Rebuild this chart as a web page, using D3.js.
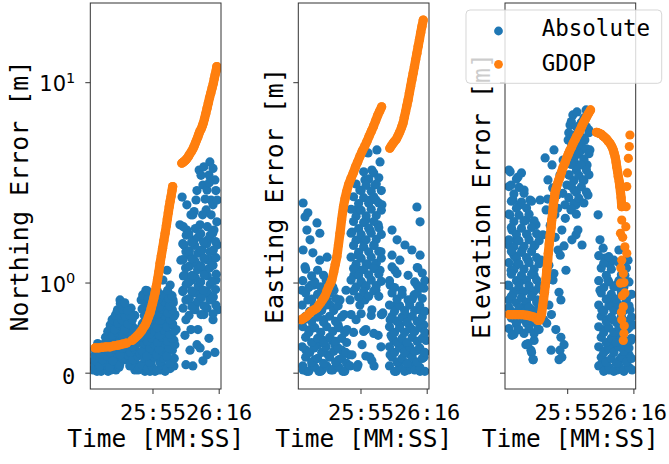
<!DOCTYPE html>
<html>
<head>
<meta charset="utf-8">
<script src="https://cdn.jsdelivr.net/npm/d3@7"></script>
<style>
  body { margin: 0; background: #fff; }
  svg { display: block; }
  text { font-family: 'DejaVu Sans Mono', monospace; fill: #000; }
</style>
</head>
<body>
<svg width="669" height="464"></svg>
<script>
// times are seconds after 25:00, values are metres
const tickSeconds = [55, 76];
const yTickValues = [0, 1, 10];
const panelLabels = ['Northing Error [m]', 'Easting Error [m]', 'Elevation Error [m]'];
const seriesNames = ['Absolute', 'GDOP'];

const northAbs = [
  [36.1,0.02],[36.4,0.09],[36.8,0.14],[37.1,0.04],[37.4,0.01],[37.7,0.10],[38.0,0.18],[38.3,0.05],[38.7,0.01],[39.0,0.13],
  [39.3,0.23],[39.6,0.03],[39.9,0.09],[40.2,0.17],[40.6,0.27],[40.9,0.01],[41.2,0.12],[41.5,0.38],[41.8,0.20],[42.1,0.07],
  [42.5,0.49],[42.8,0.29],[43.1,0.14],[43.4,0.02],[43.7,0.58],[44.1,0.40],[44.4,0.23],[44.7,0.74],[45.0,0.51],[45.3,0.31],
  [45.6,0.17],[46.0,0.67],[46.3,0.43],[46.6,0.25],[46.9,0.10],[47.2,0.55],[47.5,0.34],[47.9,0.18],[48.2,0.63],[48.5,0.42],
  [48.8,0.23],[49.1,0.09],[49.4,0.54],[49.8,0.32],[50.1,0.14],[50.4,0.02],[50.7,0.27],[51.0,0.04],
  [35.8,0.05],[38.0,0.04],[39.3,0.07],[40.6,0.05],[41.8,0.02],[43.1,0.07],[44.4,0.04],
  [49.4,0.02],[52.6,0.01],[54.2,0.01],[55.8,0.01],[57.4,0.02],[59.0,0.01],[60.6,0.03],[61.8,0.05],
  [36.9,0.09],[38.2,0.05],[40.0,0.08],[41.4,0.04],[43.2,0.09],[44.6,0.06],[46.4,0.10],[47.8,0.05],[49.5,0.08],[50.9,0.04],
  [37.4,0.14],[39.2,0.10],[40.6,0.13],[42.4,0.09],[43.8,0.15],[45.6,0.11],[47.0,0.14],[48.8,0.10],[50.3,0.13],
  [36.7,0.19],[38.4,0.15],[39.8,0.20],[41.6,0.16],[43.0,0.19],[44.8,0.14],[46.2,0.20],[48.0,0.16],[49.3,0.19],[51.1,0.15],
  [37.6,0.24],[39.0,0.20],[40.8,0.25],[42.2,0.21],[44.0,0.24],[45.4,0.20],[47.2,0.25],[48.6,0.21],[50.2,0.24],
  [40.1,0.30],[41.3,0.26],[43.3,0.29],[44.5,0.25],[46.5,0.30],[47.7,0.26],[49.6,0.29],[50.8,0.25],
  [40.8,0.36],[42.3,0.32],[43.9,0.35],[45.5,0.31],[47.1,0.36],[48.7,0.32],[50.3,0.35],
  [41.6,0.43],[43.0,0.38],[44.8,0.42],[46.2,0.38],[48.0,0.43],[49.3,0.39],
  [42.2,0.49],[44.0,0.45],[45.4,0.48],[47.2,0.44],[48.6,0.49],
  [43.2,0.54],[44.6,0.55],[46.4,0.53],[47.8,0.54],[43.9,0.61],[45.5,0.62],[47.1,0.60],[44.8,0.69],[46.2,0.70],
  [51.4,0.74],[51.7,0.43],[52.0,0.18],[52.3,0.61],[52.6,0.32],[52.9,0.88],[53.3,0.14],[53.6,0.51],[53.9,0.25],[54.2,0.81],
  [54.5,0.09],[54.8,0.40],[55.2,0.67],[55.5,0.20],[55.8,0.51],[56.1,0.88],[56.4,0.29],[56.7,0.12],[57.1,0.61],[57.4,0.38],
  [57.7,0.74],[58.0,0.23],[58.3,1.04],[58.6,0.46],[59.0,0.18],[59.3,0.80],[59.6,1.21],[59.9,0.32],[60.2,0.58],[60.6,0.96],
  [60.9,0.18],[61.2,0.43],[61.5,0.74],[61.8,0.27],[62.1,0.55],[62.5,0.38],
  [51.7,0.06],[53.4,0.03],[54.7,0.05],[56.5,0.02],[57.9,0.06],[59.7,0.03],[61.1,0.05],
  [52.5,0.11],[54.1,0.08],[55.5,0.12],[57.3,0.08],[58.7,0.11],[60.5,0.07],[61.9,0.11],
  [51.8,0.17],[53.2,0.13],[54.9,0.18],[56.3,0.14],[58.1,0.17],[59.5,0.13],[61.3,0.18],
  [52.4,0.24],[54.2,0.20],[55.6,0.23],[57.1,0.19],[58.9,0.24],[60.3,0.20],[62.1,0.23],
  [51.6,0.30],[53.4,0.26],[54.8,0.29],[56.6,0.25],[58.0,0.30],[59.8,0.26],[61.2,0.29],
  [52.6,0.37],[54.0,0.33],[55.7,0.36],[57.2,0.32],[58.8,0.37],[60.4,0.33],[61.9,0.36],
  [51.9,0.45],[53.2,0.41],[55.0,0.44],[56.4,0.40],[58.2,0.45],[59.6,0.41],[61.4,0.44],
  [52.4,0.54],[54.2,0.49],[55.6,0.53],[57.4,0.48],[58.8,0.54],[60.6,0.49],[61.8,0.53],
  [51.7,0.62],[53.5,0.57],[54.9,0.61],[56.7,0.56],[58.1,0.62],[59.9,0.57],[61.3,0.61],
  [52.6,0.71],[54.0,0.66],[55.8,0.70],[57.2,0.65],[59.0,0.71],[60.4,0.66],[61.6,0.70],
  [51.9,0.81],[53.7,0.76],[55.1,0.80],[56.9,0.75],[58.3,0.81],[60.1,0.76],[61.2,0.80],
  [53.4,0.87],[56.6,0.86],[59.8,0.88],
  [63.7,2.22],[64.0,1.40],[64.4,3.07],[64.7,0.88],[65.0,1.72],[65.3,1.12],[65.6,0.49],[65.9,2.08],[66.3,0.74],[66.6,1.50],
  [66.9,0.18],[67.2,2.50],[67.5,1.04],[67.8,0.05],[68.2,1.84],[68.5,0.67],[68.8,2.97],[69.1,1.31],[69.4,0.38],[69.8,4.13],
  [70.1,2.22],[70.4,0.88],[70.7,1.61],[71.0,3.51],[71.3,0.55],[71.7,1.21],[72.0,2.65],[72.3,0.14],[72.6,1.84],[72.9,0.81],
  [73.2,4.50],[73.6,2.97],[73.9,1.40],[74.2,0.49],[74.5,2.08],[74.8,3.71],[75.1,1.04],[75.5,1.72],[75.8,0.61],[71.3,4.27],
  [70.1,0.20],[72.9,3.91],[74.2,2.81],[65.6,0.06],[67.2,0.38],
  [64.7,0.63],[66.6,0.54],[68.5,0.61],[70.4,0.55],[72.3,0.63],[74.2,0.56],
  [65.6,0.74],[67.5,0.65],[69.4,0.72],[71.3,0.66],[73.2,0.74],[75.1,0.67],
  [64.6,0.86],[66.7,0.76],[68.4,0.84],[70.5,0.77],[72.2,0.86],[74.3,0.78],
  [65.7,0.97],[67.4,0.87],[69.5,0.95],[71.2,0.88],[73.3,0.97],[75.0,0.89],
  [64.8,1.11],[66.5,1.00],[68.6,1.08],[70.3,1.01],[72.4,1.11],[74.1,1.02],
  [65.5,1.25],[67.6,1.12],[69.3,1.22],[71.4,1.13],[73.1,1.25],[75.2,1.14],
  [64.7,1.41],[66.6,1.28],[68.5,1.38],[70.4,1.29],[72.3,1.41],[74.2,1.30],
  [65.6,1.57],[67.5,1.43],[69.4,1.54],[71.3,1.44],[73.2,1.57],[75.1,1.45],
  [64.6,1.75],[66.7,1.59],[68.4,1.71],[70.5,1.60],[72.2,1.75],[74.3,1.61],
  [65.7,1.95],[67.4,1.78],[69.5,1.91],[71.2,1.79],[73.3,1.95],[75.0,1.80],
  [64.8,2.17],[66.5,1.98],[68.6,2.12],[70.3,1.99],[72.4,2.17],[74.1,2.00],
  [65.3,0.32],[69.1,0.23],[72.9,0.29],[74.8,0.16],[71.0,0.09],[67.8,2.50],[72.3,3.32],[75.5,2.97],[65.9,2.81],
  [69.1,3.3],[70.4,3.9],[71.7,3.0],[73.0,3.6],[74.2,4.2],[75.1,3.3],[68.2,2.6],[70.9,2.5],[73.6,2.5],[75.4,2.3]
];

const northGdop = [
  [36.8,0.20],[37.9,0.20],[39.0,0.205],[40.2,0.21],[41.5,0.21],[42.8,0.22],[44.0,0.225],[45.4,0.235],[46.8,0.245],[48.5,0.27],
  [49.3,0.29],[50.0,0.31],[50.6,0.33],[51.1,0.35],[51.6,0.37],[52.1,0.40],[52.7,0.43],[53.2,0.47],[53.7,0.52],[54.2,0.57],
  [54.6,0.63],[55.0,0.69],[55.4,0.76],[55.8,0.84],[56.2,0.94],[56.6,1.05],[57.0,1.18],[57.4,1.34],[57.8,1.49],[58.2,1.65],
  [58.6,1.82],[59.0,2.0],[59.4,2.2],[59.7,2.38],[60.0,2.56],[60.3,2.75],[60.6,2.93],[60.9,3.1],[61.2,3.3],[61.4,3.45],
  [64.3,4.44],[64.7,4.48],[65.0,4.52],[65.4,4.57],[65.7,4.62],[66.0,4.68],[66.4,4.76],[66.8,4.88],[67.3,5.0],[67.8,5.15],
  [68.2,5.3],[68.6,5.47],[69.0,5.65],[69.4,5.83],[69.7,6.0],[70.0,6.15],[70.4,6.3],[70.8,6.5],[71.1,6.69],[71.5,7.0],
  [71.9,7.35],[72.3,7.75],[72.7,8.16],[73.1,8.6],[73.5,9.0],[73.9,9.45],[74.3,9.9],[74.6,10.35],[74.9,10.8],[75.2,11.2],
  [75.4,11.62]
];

const eastAbs = [
  [36.8,2.87],[38.3,2.56],[37.4,2.44],[41.2,2.27],[38.0,2.08],[39.0,1.84],[42.1,2.00],[36.8,1.61],[39.9,1.55],[37.4,1.27],
  [42.1,1.40],[44.4,1.46],
  [36.4,0.88],[37.1,0.49],[37.7,0.18],[38.3,0.74],[39.0,0.38],[39.6,0.06],[40.2,0.96],[40.9,0.61],[41.5,0.23],[42.1,0.81],
  [42.8,0.02],[43.4,0.49],[44.1,1.04],[44.7,0.14],[45.3,0.67],[46.0,0.27],[46.6,0.88],[47.2,0.04],[47.9,0.43],[48.5,0.74],
  [49.1,0.18],[49.8,0.55],[36.8,0.02],[38.0,0.01],[39.3,0.96],[40.6,0.10],[41.8,0.01],[43.1,0.27],[44.4,0.74],[45.6,0.02],
  [46.9,0.23],[48.2,0.10],[49.4,0.01],[50.7,0.38],[51.4,0.14],[50.4,0.88],
  [36.7,0.05],[38.6,0.01],[40.5,0.04],[42.4,0.01],[44.3,0.05],[46.2,0.02],[48.1,0.04],[50.0,0.01],
  [37.6,0.12],[39.5,0.08],[41.4,0.11],[43.3,0.07],[45.2,0.12],[47.1,0.08],[49.0,0.11],[50.6,0.07],
  [36.5,0.21],[38.9,0.16],[40.3,0.20],[42.7,0.16],[44.1,0.21],[46.5,0.17],[47.9,0.20],[50.3,0.16],
  [37.6,0.30],[39.5,0.25],[41.4,0.29],[43.3,0.25],[45.2,0.30],[47.1,0.26],[49.0,0.29],[50.6,0.25],
  [36.7,0.41],[38.6,0.35],[40.5,0.40],[42.4,0.35],[44.3,0.41],[46.2,0.36],[48.1,0.40],[50.0,0.35],
  [37.6,0.53],[39.5,0.47],[41.4,0.52],[43.3,0.46],[45.2,0.53],[47.1,0.47],[49.0,0.52],
  [36.5,0.67],[38.9,0.59],[40.3,0.66],[42.7,0.60],[44.1,0.67],[46.5,0.60],[47.9,0.66],
  [37.6,0.84],[39.5,0.75],[41.4,0.82],[43.3,0.75],[45.2,0.84],[47.1,0.76],
  [36.7,1.03],[38.6,0.92],[40.5,1.01],[42.4,0.93],[44.3,1.03],[46.2,0.93],
  [37.6,1.23],[39.5,1.11],[41.4,1.21],[43.3,1.12],
  [57.4,4.94],[60.2,5.10],[61.2,4.50],[58.6,4.13],[56.4,3.71],[59.6,3.51],[54.8,3.32],[58.0,2.97],[61.8,2.81],[53.6,2.65],
  [56.7,2.35],[60.6,2.22],[52.3,2.03],[55.5,1.84],[59.3,1.72],[54.2,1.50],[57.4,1.31],[61.2,1.21],[52.9,1.12],[56.1,0.96],
  [59.9,0.88],[51.7,0.74],[54.8,0.67],[58.6,0.61],[61.8,0.55],[53.6,0.49],[56.7,0.38],[60.6,0.32],[55.5,0.23],[52.3,0.14],
  [58.0,0.12],[62.1,0.57],[54.2,0.06],[58.6,0.09],[56.4,0.74],[58.0,2.08],[54.8,1.21],[59.9,2.97],[61.5,1.57],[51.7,0.05],
  [53.9,0.04],[56.7,0.13],[59.3,0.05],[61.5,0.21],
  [56.0,4.05],[57.6,3.75],[59.2,4.0],[60.8,3.8],
  [53.6,3.55],[55.2,3.3],[56.8,3.5],[58.4,3.28],[60.0,3.55],[61.6,3.3],
  [52.8,3.08],[54.4,2.85],[56.0,3.05],[57.6,2.86],[59.2,3.08],[60.8,2.87],
  [52.0,2.67],[53.6,2.46],[55.2,2.64],[56.8,2.47],[58.4,2.67],[60.0,2.48],[61.6,2.64],
  [52.8,2.31],[54.4,2.12],[56.0,2.28],[57.6,2.13],[59.2,2.31],[60.8,2.14],
  [52.0,2.0],[53.6,1.83],[55.2,1.97],[56.8,1.84],[58.4,2.0],[60.0,1.85],[61.6,1.97],
  [52.8,1.71],[54.4,1.56],[56.0,1.68],[57.6,1.57],[59.2,1.71],[60.8,1.58],
  [52.0,1.46],[53.6,1.32],[55.2,1.44],[56.8,1.33],[58.4,1.46],[60.0,1.34],[61.6,1.44],
  [52.8,1.24],[54.4,1.12],[56.0,1.22],[57.6,1.13],[59.2,1.24],[60.8,1.14],
  [52.0,1.04],[53.6,0.93],[55.2,1.02],[56.8,0.94],[58.4,1.04],[60.0,0.95],[61.6,1.02],
  [52.8,0.87],[54.4,0.78],[56.0,0.86],[57.6,0.79],[59.2,0.87],[60.8,0.79],
  [52.0,0.55],[55.2,0.56],[58.4,0.54],[61.6,0.55],[52.8,0.35],[56.0,0.36],[59.2,0.34],
  [72.9,2.74],[73.9,2.30],[65.0,2.08],[66.6,1.84],[69.1,1.72],[65.0,1.50],[67.5,1.40],[71.3,1.61],[73.9,1.50],[65.9,1.21],
  [70.1,1.12],[73.2,1.25],[64.4,0.96],[68.2,0.88],[72.0,0.81],[75.1,0.91],[66.3,0.67],[70.1,0.74],[73.9,0.61],[64.4,0.49],
  [67.5,0.43],[71.3,0.38],[75.1,0.43],[65.6,0.27],[69.4,0.23],[73.2,0.18],[64.4,0.14],[68.2,0.10],[72.0,0.06],[75.1,0.12],
  [66.3,0.01],[70.1,0.02],[73.9,0.01],[64.7,0.32],[69.1,0.55],[72.9,0.96],[70.7,0.14],[67.2,0.23],[75.8,0.27],
  [64.2,0.05],[65.8,0.01],[67.4,0.04],[69.0,0.01],[70.6,0.05],[72.2,0.02],[73.8,0.04],[75.4,0.01],
  [65.0,0.12],[66.6,0.08],[68.2,0.11],[69.8,0.07],[71.4,0.12],[73.0,0.08],[74.6,0.11],
  [64.2,0.21],[65.8,0.16],[67.4,0.20],[69.0,0.16],[70.6,0.21],[72.2,0.17],[73.8,0.20],[75.4,0.16],
  [65.0,0.30],[66.6,0.25],[68.2,0.29],[69.8,0.25],[71.4,0.30],[73.0,0.26],[74.6,0.29],
  [64.2,0.41],[65.8,0.35],[67.4,0.40],[69.0,0.35],[70.6,0.41],[72.2,0.36],[73.8,0.40],[75.4,0.35],
  [65.0,0.53],[66.6,0.47],[68.2,0.52],[69.8,0.46],[71.4,0.53],[73.0,0.47],[74.6,0.52],
  [64.2,0.67],[65.8,0.59],[67.4,0.66],[69.0,0.60],[70.6,0.67],[72.2,0.60],[73.8,0.66],[75.4,0.59],
  [65.0,0.84],[66.6,0.75],[68.2,0.82],[71.4,0.75],[73.0,0.84],[74.6,0.76],
  [64.2,1.03],[65.8,0.92],[72.2,1.01],[73.8,0.93],[75.4,1.03],
  [65.0,1.27],[66.6,1.15],[73.0,1.26],[74.6,1.16]
];

const eastGdop = [
  [36.3,0.49],[37.1,0.51],[37.9,0.53],[38.7,0.56],[39.5,0.59],[40.3,0.61],[41.1,0.63],[41.8,0.67],[42.5,0.71],[43.1,0.75],
  [43.7,0.79],[44.3,0.86],[44.8,0.92],[45.4,0.98],[45.9,1.04],[46.5,1.18],[47.0,1.32],[47.5,1.47],[48.0,1.72],[48.5,2.0],
  [49.0,2.35],[49.6,2.75],[50.1,3.02],[50.6,3.26],[51.3,3.55],[52.0,3.78],[52.7,4.0],[53.4,4.26],[54.1,4.5],[54.8,4.76],
  [55.5,5.02],[56.3,5.28],[57.0,5.55],[57.7,5.85],[58.4,6.15],[59.1,6.47],[59.8,6.85],[60.5,7.25],[61.1,7.55],[61.7,7.87],
  [64.3,5.19],[64.8,5.32],[65.3,5.45],[65.8,5.57],[66.4,5.7],[66.9,5.9],[67.4,6.1],[68.0,6.4],[68.5,6.7],[68.9,7.1],
  [69.3,7.5],[69.7,7.95],[70.1,8.42],[70.5,9.0],[70.9,9.6],[71.3,10.25],[71.7,10.9],[72.1,11.6],[72.5,12.4],[72.9,13.2],
  [73.3,14.1],[73.7,15.0],[74.1,16.0],[74.5,17.0],[74.9,18.0]
];

const elevAbs = [
  [36.5,4.13],[37.2,3.51],[37.8,2.97],[36.8,2.50],[37.5,2.08],[36.5,1.72],[38.1,1.50],[37.2,1.21],[36.2,0.96],[37.8,0.81],
  [36.8,0.61],[38.4,0.49],[37.5,0.32],[36.5,0.74],[38.8,1.84],[39.4,3.83],[40.0,2.81],[39.1,1.31],[39.7,0.88],[40.3,0.55],
  [39.4,0.38],[40.7,1.61],[41.3,3.32],[41.9,2.35],[41.0,1.04],[41.6,0.67],[42.3,1.96],[42.6,1.40],[41.9,0.23],[42.9,0.43],
  [43.2,2.97],[43.2,0.88],[43.5,0.18],[44.2,0.10],[43.8,0.61],[44.5,1.12],[44.8,1.72],[45.1,2.22],[45.4,0.74],[44.5,0.27],
  [45.7,0.38],[42.6,0.24],[43.7,0.16],[44.2,0.10],[52.7,0.18],[53.3,0.12],
  [36.9,4.05],[38.9,3.75],[40.5,4.0],
  [36.5,3.45],[38.1,3.18],[39.7,3.42],[41.3,3.2],
  [37.3,2.93],[38.9,2.7],[40.5,2.9],[42.1,2.71],[43.7,2.93],
  [36.5,2.52],[38.1,2.31],[39.7,2.49],[41.3,2.32],[42.9,2.52],[44.5,2.33],
  [37.3,2.15],[38.9,1.97],[40.5,2.13],[42.1,1.98],[43.7,2.15],[45.3,1.99],
  [36.5,1.84],[38.1,1.68],[39.7,1.82],[41.3,1.69],[42.9,1.84],[44.5,1.69],[46.1,1.82],
  [37.3,1.58],[38.9,1.44],[40.5,1.56],[42.1,1.45],[43.7,1.58],[45.3,1.45],
  [36.5,1.35],[38.1,1.22],[39.7,1.33],[41.3,1.23],[42.9,1.35],[44.5,1.23],[46.1,1.33],
  [37.3,1.14],[38.9,1.03],[40.5,1.12],[42.1,1.04],[43.7,1.14],[45.3,1.04],
  [36.5,0.95],[38.1,0.86],[39.7,0.94],[41.3,0.86],[42.9,0.95],[44.5,0.87],[46.1,0.94],
  [37.3,0.79],[38.9,0.70],[40.5,0.77],[42.1,0.71],[43.7,0.79],[45.3,0.71],
  [36.5,0.64],[38.1,0.57],[39.7,0.63],[41.3,0.57],[42.9,0.64],[44.5,0.58],[46.1,0.63],
  [37.3,0.51],[38.9,0.44],[40.5,0.50],[42.1,0.45],[43.7,0.51],[45.3,0.45],
  [36.5,0.39],[38.1,0.33],[39.7,0.38],[41.3,0.34],[42.9,0.39],[44.5,0.34],[46.1,0.38],
  [46.4,2.97],[46.7,1.40],[47.0,0.88],[47.3,1.96],[48.0,4.69],[47.6,0.49],[48.3,2.65],[48.6,1.21],[48.9,3.71],[49.2,0.67],
  [49.5,1.84],[49.9,0.18],[50.2,4.36],[50.5,1.04],[50.8,5.10],[51.1,2.50],[51.4,0.38],[51.8,3.14],[52.1,1.61],[52.4,0.10],
  [52.7,3.91],[53.0,0.74],[53.3,2.08],[53.7,4.59],[54.0,0.23],[54.3,2.81],[54.6,1.21],[54.9,3.51],
  [48.8,3.0],[49.6,2.2],[50.4,3.4],[51.2,1.9],[52.0,2.7],[52.8,1.5],[53.6,3.2],[54.4,2.4],[49.2,1.3],[50.8,1.15],
  [52.4,0.85],[54.0,1.7],[48.5,0.45],[50.0,0.55],[53.0,0.3],
  [55.3,5.65],[55.6,3.91],[55.9,6.57],[56.2,2.65],[56.5,4.84],[56.8,7.26],[57.2,3.32],[57.5,5.94],[57.8,1.96],[58.1,7.48],
  [58.4,4.36],[58.7,2.97],[59.1,6.57],[59.4,5.10],[59.7,1.72],[60.0,3.71],[60.3,7.05],[60.6,5.65],[61.0,7.63],[61.3,4.36],
  [61.6,3.14],[61.9,6.25],[62.2,5.10],[56.5,1.84],[58.4,2.08],[57.8,2.81],
  [56.3,6.8],[57.9,6.45],[59.5,6.75],[61.1,6.45],
  [55.5,6.08],[57.1,5.75],[58.7,6.05],[60.3,5.76],[61.9,6.08],
  [56.3,5.46],[57.9,5.15],[59.5,5.44],[61.1,5.16],
  [55.5,4.9],[57.1,4.62],[58.7,4.88],[60.3,4.63],[61.9,4.9],
  [56.3,4.38],[57.9,4.12],[59.5,4.36],[61.1,4.13],
  [55.5,3.92],[57.1,3.68],[58.7,3.9],[60.3,3.69],[61.9,3.92],
  [56.3,3.46],[57.9,3.24],[59.5,3.44],[61.1,3.25],
  [55.5,3.05],[57.1,2.86],[58.7,3.03],[60.3,2.87],[56.3,2.68],[57.9,2.52],
  [64.8,2.50],[65.4,1.84],[66.4,1.65],[67.0,1.44],[68.6,1.31],[67.9,1.04],[65.4,0.88],[66.0,0.61],[66.7,0.38],[67.3,0.18],
  [65.7,0.06],[68.3,0.02],[68.9,0.74],[69.5,0.49],[69.2,0.23],[69.8,1.40],[70.5,0.96],[70.8,0.02],[71.1,0.32],[70.2,0.67],
  [71.7,0.10],[72.1,0.88],[72.4,0.49],[72.7,0.23],[73.0,0.01],[73.7,0.74],[74.0,0.38],[74.3,1.40],[74.6,0.14],[74.9,0.61],
  [75.2,0.27],[75.6,0.02],[73.3,1.12],[71.4,1.61],[67.6,0.49],[66.4,0.10],[75.9,0.43],
  [65.0,0.05],[66.6,0.01],[68.2,0.04],[69.8,0.01],[71.4,0.05],[73.0,0.02],[74.6,0.04],
  [65.8,0.12],[67.4,0.08],[69.0,0.11],[70.6,0.07],[72.2,0.12],[73.8,0.08],[75.4,0.11],
  [65.0,0.21],[66.6,0.16],[68.2,0.20],[69.8,0.16],[71.4,0.21],[73.0,0.17],[74.6,0.20],
  [65.8,0.30],[67.4,0.25],[69.0,0.29],[70.6,0.25],[72.2,0.30],[73.8,0.26],[75.4,0.29],
  [65.0,0.41],[66.6,0.35],[68.2,0.40],[69.8,0.35],[71.4,0.41],[73.0,0.36],[74.6,0.40],
  [65.8,0.53],[67.4,0.47],[69.0,0.52],[70.6,0.46],[72.2,0.53],[73.8,0.47],[75.4,0.52],
  [65.0,0.67],[66.6,0.59],[68.2,0.66],[69.8,0.60],[71.4,0.67],[73.0,0.60],[74.6,0.66],
  [65.8,0.84],[67.4,0.75],[69.0,0.82],[70.6,0.75],[72.2,0.84],[73.8,0.76],[75.4,0.82],
  [65.0,1.03],[66.6,0.92],[68.2,1.01],[69.8,0.93],[71.4,1.03],[73.0,0.93],[74.6,1.01],
  [65.8,1.25],[67.4,1.12],[69.0,1.23],[72.2,1.13],[73.8,1.25],
  [65.0,1.49],[66.6,1.34],[68.2,1.47],[71.4,1.35]
];

const elevGdop = [
  [36.6,0.55],[37.6,0.55],[38.5,0.55],[39.5,0.55],[40.5,0.55],[41.5,0.545],[42.5,0.54],[43.5,0.53],[44.4,0.52],[45.0,0.51],
  [45.5,0.49],[45.8,0.48],[46.1,0.48],[46.4,0.50],[46.7,0.53],[46.9,0.57],[47.2,0.65],[47.5,0.75],[47.8,0.85],[48.0,0.94],
  [48.3,1.07],[48.5,1.2],[48.8,1.36],[49.0,1.54],[49.3,1.74],[49.6,1.95],[49.9,2.15],[50.1,2.35],[50.4,2.58],[50.6,2.8],
  [50.9,3.0],[51.1,3.2],[51.5,3.38],[51.9,3.55],[52.3,3.7],[52.7,3.83],[53.2,4.04],[53.7,4.25],[54.3,4.46],[54.8,4.67],
  [55.3,4.86],[55.8,5.05],[56.4,5.26],[56.9,5.46],[57.5,5.66],[58.0,5.85],[58.6,6.05],[59.1,6.25],[59.6,6.47],[60.1,6.7],
  [60.7,6.92],[61.2,7.14],[61.8,7.38],[62.4,7.63],
  [64.3,6.1],[64.8,6.07],[65.3,6.03],[65.8,5.98],[66.4,5.88],[66.9,5.8],[67.5,5.7],[68.0,5.58],[68.6,5.45],[69.1,5.3],
  [69.6,5.10],[69.9,4.93],[70.2,4.75],[70.5,4.5],[70.7,4.28],[71.0,4.05],[71.2,3.85],[71.5,3.65],[71.7,3.45],[71.9,3.25],
  [72.1,3.05],[72.3,2.75]
];

// scattered GDOP samples at the end of the elevation run (dots only)
const elevGdopTail = [
  [72.3,2.35],[71.9,2.0],[73.3,1.68],[72.3,1.40],[72.8,1.15],[71.9,0.99],[73.3,0.84],[72.8,0.65],[72.3,0.49],[73.0,0.34],
  [72.8,0.27],[74.9,5.94],[74.7,5.28],[74.4,4.67],[74.1,4.0],[73.9,3.45],[73.7,2.75],[73.6,2.17],[73.9,1.54],[72.6,1.9],
  [72.0,1.25],[73.0,1.0],[72.5,0.8],[72.2,0.58],[73.1,0.42]
];

const panels = [
  { abs: northAbs, gdop: northGdop, tail: [] },
  { abs: eastAbs, gdop: eastGdop, tail: [] },
  { abs: elevAbs, gdop: elevGdop, tail: elevGdopTail }
];

const blue = '#1f77b4', orange = '#ff7f0e';
const dotR = 4.6;
const panelLeft = [90.3, 298.3, 505];
const panelW = 130.7, yTop = 3, yBottom = 389;

const svg = d3.select('svg');
const base = new Date(2000, 0, 1, 0, 25, 0).getTime();
const toTime = (s) => new Date(base + s * 1000);

const x = d3.scaleTime()
  .domain([toTime(35.27), toTime(76.73)])
  .range([0, panelW]);
const y = d3.scaleSymlog()
  .constant(0.81)
  .domain([-0.127, 21.1])
  .range([yBottom, yTop]);

const line = d3.line()
  .x((d) => x(toTime(d[0])))
  .y((d) => y(d[1]))
  .curve(d3.curveMonotoneX);

// split a series where the receiver had no fix
function segments(data) {
  const out = [[data[0]]];
  for (let i = 1; i < data.length; i++) {
    if (data[i][0] - data[i - 1][0] > 1.5) out.push([]);
    out[out.length - 1].push(data[i]);
  }
  return out;
}

panels.forEach((p, i) => {
  const g = svg.append('g').attr('transform', 'translate(' + panelLeft[i] + ',0)');

  svg.append('clipPath').attr('id', 'clip' + i)
    .append('rect').attr('x', 0).attr('y', yTop).attr('width', panelW).attr('height', yBottom - yTop);

  const plot = g.append('g').attr('clip-path', 'url(#clip' + i + ')');

  plot.selectAll('circle.abs')
    .data(p.abs)
    .enter().append('circle')
      .attr('class', 'abs')
      .attr('cx', (d) => x(toTime(d[0])))
      .attr('cy', (d) => y(d[1]))
      .attr('r', dotR)
      .attr('fill', blue);

  segments(p.gdop).forEach((seg) => {
    plot.append('path')
      .datum(seg)
      .attr('fill', 'none')
      .attr('stroke', orange)
      .attr('stroke-width', dotR * 2)
      .attr('stroke-linecap', 'round')
      .attr('stroke-linejoin', 'round')
      .attr('d', line);
  });

  plot.selectAll('circle.gdop')
    .data(p.gdop.concat(p.tail))
    .enter().append('circle')
      .attr('class', 'gdop')
      .attr('cx', (d) => x(toTime(d[0])))
      .attr('cy', (d) => y(d[1]))
      .attr('r', dotR)
      .attr('fill', orange);

  // y axis
  const ya = g.append('g')
    .call(d3.axisLeft(y).tickValues(yTickValues).tickSize(5).tickPadding(10));
  ya.select('.domain').remove();
  ya.selectAll('.tick line').attr('stroke', '#333');
  ya.selectAll('.tick text').each(function (d) {
    const t = d3.select(this).attr('dy', null).text('');
    if (i > 0) return;
    if (d === 0) {
      t.attr('y', 11.3).style('font-size', '22px').text('0');
    } else {
      t.attr('y', 8.7).style('font-family', "'DejaVu Sans', sans-serif").style('font-size', '21px');
      t.append('tspan').text('10');
      t.append('tspan').attr('dy', -8.5).style('font-size', '14.5px').text(Math.round(Math.log10(d)));
    }
  });

  // x axis
  const xa = g.append('g')
    .attr('transform', 'translate(0,' + yBottom + ')')
    .call(d3.axisBottom(x).tickValues(tickSeconds.map(toTime))
      .tickFormat(d3.timeFormat('%M:%S')).tickSize(5));
  xa.select('.domain').remove();
  xa.selectAll('.tick line').attr('stroke', '#333');
  xa.selectAll('.tick text')
    .attr('y', 31.3).attr('dy', null)
    .style('font-family', "'DejaVu Sans Mono', monospace")
    .style('font-size', '22px');

  g.append('rect')
    .attr('x', 0).attr('y', yTop)
    .attr('width', panelW).attr('height', yBottom - yTop)
    .attr('fill', 'none').attr('stroke', '#333').attr('stroke-width', 1);

  g.append('text')
    .attr('x', panelW / 2).attr('y', 447)
    .attr('text-anchor', 'middle')
    .style('font-size', '24.5px')
    .text('Time [MM:SS]');

  g.append('text')
    .attr('transform', 'translate(' + (i === 0 ? -62 : -15.5) + ',' + (yTop + yBottom) / 2 + ') rotate(-90)')
    .attr('text-anchor', 'middle')
    .style('font-size', '25px')
    .text(panelLabels[i]);
});

// legend, drawn over the last panel
const leg = svg.append('g').attr('transform', 'translate(466,10)');
leg.append('rect')
  .attr('width', 195.7).attr('height', 73.3).attr('rx', 4)
  .attr('fill', '#fff').attr('fill-opacity', 0.8)
  .attr('stroke', '#ccc').attr('stroke-opacity', 0.8);
seriesNames.forEach((name, k) => {
  leg.append('circle')
    .attr('cx', 32.5).attr('cy', 21 + k * 33.3)
    .attr('r', 4.4).attr('fill', k === 0 ? blue : orange);
  leg.append('text')
    .attr('x', 75.7).attr('y', 26 + k * 34.7)
    .style('font-size', '22.5px')
    .text(name);
});
</script>
</body>
</html>
